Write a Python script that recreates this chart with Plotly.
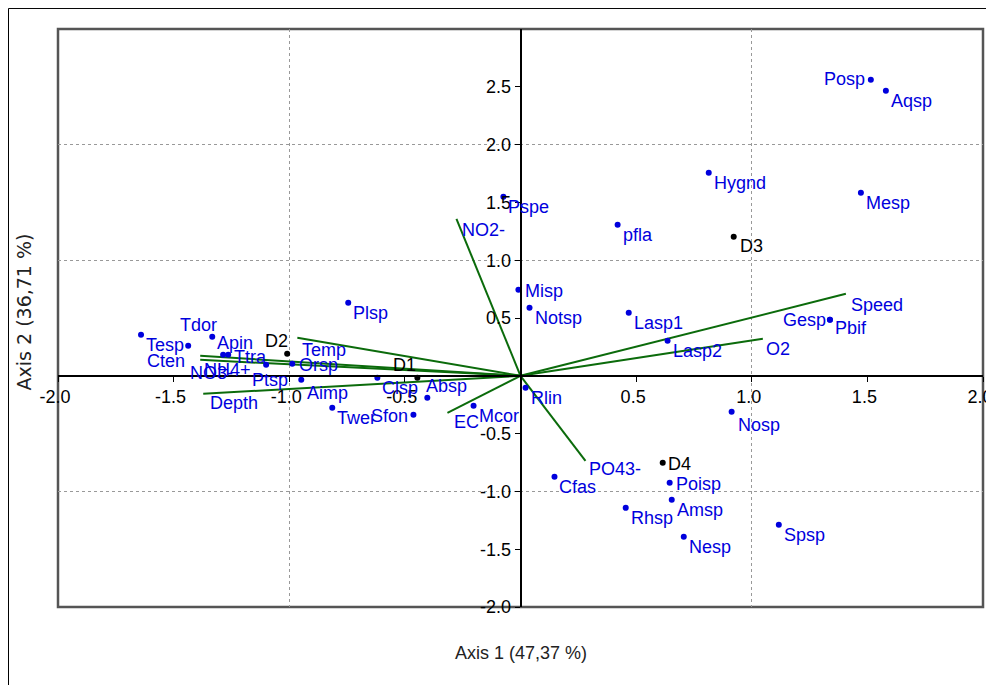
import plotly.graph_objects as go

# ---------------- data ----------------
species = ["Tesp", "Tdor", "Cten", "Apin", "Ttra", "Ptsp", "Orsp", "Aimp", "Plsp", "Twer",
           "Clsp", "Sfon", "Absp", "Mcor", "Rlin", "Misp", "Notsp", "Pspe", "pfla", "Lasp1",
           "Lasp2", "Hygnd", "Mesp", "Posp", "Aqsp", "Gesp", "Pbif", "Nosp", "Cfas", "Poisp",
           "Amsp", "Rhsp", "Nesp", "Spsp"]
species_x = [-1.641, -1.437, -1.286, -1.333, -1.264, -1.100, -0.987, -0.948, -0.745, -0.814,
             -0.619, -0.463, -0.403, -0.203, 0.022, -0.009, 0.039, -0.074, 0.420, 0.468,
             0.636, 0.814, 1.472, 1.515, 1.580, 1.338, 1.338, 0.913, 0.147, 0.645,
             0.654, 0.455, 0.706, 1.117]
species_y = [0.355, 0.260, 0.182, 0.337, 0.182, 0.095, 0.104, -0.035, 0.631, -0.277,
             -0.017, -0.337, -0.190, -0.260, -0.104, 0.744, 0.588, 1.548, 1.306, 0.545,
             0.303, 1.756, 1.583, 2.561, 2.465, 0.484, 0.484, -0.311, -0.874, -0.926,
             -1.073, -1.142, -1.393, -1.289]

sites = ["D1", "D2", "D3", "D4"]
sites_x = [-0.446, -1.009, 0.922, 0.615]
sites_y = [-0.017, 0.190, 1.202, -0.753]

variables = ["Temp", "NO3-", "NH4+", "Depth", "NO2-", "PO43-", "Speed", "O2", "EC"]
variables_x = [-0.965, -1.385, -1.385, -1.372, -0.277, 0.281, 1.407, 1.048, -0.316]
variables_y = [0.329, 0.173, 0.138, -0.156, 1.358, -0.735, 0.709, 0.320, -0.320]

x_ticks = [-2.0, -1.5, -1.0, -0.5, 0.5, 1.0, 1.5, 2.0]
y_ticks = [-2.0, -1.5, -1.0, -0.5, 0.5, 1.0, 1.5, 2.0, 2.5]
x_grid = [-1.0, 1.0]
y_grid = [-1.0, 1.0, 2.0]
x_title = "Axis 1 (47,37 %)"
y_title = "Axis 2 (36,71 %)"

# ---------------- styles ----------------
BLUE = "#0000DD"
GREEN = "#0B6B0B"
LABEL_FONT = "Liberation Sans"
TICK_FONT = "Liberation Sans"
X_RANGE = [-2.0, 2.0]
Y_RANGE = [-2.0, 3.0]

# label placement: (anchor, dx, dy) pixel offsets from the point (dy downward)
default_off = ("left", 3, 10)
label_off = {
    "Tdor": ("left", -10, -21), "Cten": ("right", -36, 6), "Apin": ("left", 3, 6),
    "Ttra": ("left", 4, 2), "Ptsp": ("left", -16, 15), "Orsp": ("left", 5, 1),
    "Aimp": ("left", 4, 13), "Sfon": ("right", -3, 1), "Absp": ("left", -3, -12),
    "Misp": ("left", 5, 1), "Posp": ("right", -4, -1), "Gesp": ("right", -2, 0),
    "Pbif": ("left", 3, 8), "Nosp": ("left", 4, 13), "Poisp": ("left", 4, 1),
    "D1": ("right", 1, -13), "D2": ("right", 3, -13), "D3": ("left", 4, 9),
    "D4": ("left", 3, 1),
    "Temp": ("left", 3, 12), "NO3-": ("left", -12, 17), "NH4+": ("left", 2, 10),
    "Depth": ("left", 5, 9), "NO2-": ("left", 4, 11), "PO43-": ("left", 2, 8),
    "Speed": ("left", 3, 11), "O2": ("left", 1, 10), "EC": ("left", 5, 9),
}

fig = go.Figure()

# vectors
vx, vy = [], []
for x, y in zip(variables_x, variables_y):
    vx += [0, x, None]
    vy += [0, y, None]
fig.add_trace(go.Scatter(x=vx, y=vy, mode="lines",
                         line=dict(color=GREEN, width=2), hoverinfo="skip",
                         showlegend=False))

# species points
fig.add_trace(go.Scatter(x=species_x, y=species_y, mode="markers",
                         marker=dict(color=BLUE, size=6, line=dict(width=0)), text=species,
                         showlegend=False))
# site points
fig.add_trace(go.Scatter(x=sites_x, y=sites_y, mode="markers",
                         marker=dict(color="black", size=6, line=dict(width=0)), text=sites,
                         showlegend=False))

annotations = []


def add_label(name, x, y, color):
    anchor, dx, dy = label_off.get(name, default_off)
    annotations.append(dict(x=x, y=y, xref="x", yref="y", text=name, showarrow=False,
                            xanchor=anchor, yanchor="middle", xshift=dx, yshift=-dy,
                            font=dict(family=LABEL_FONT, size=18, color=color)))


for n, x, y in zip(species, species_x, species_y):
    add_label(n, x, y, BLUE)
for n, x, y in zip(variables, variables_x, variables_y):
    add_label(n, x, y, BLUE)
for n, x, y in zip(sites, sites_x, sites_y):
    add_label(n, x, y, "black")

# axis titles
annotations.append(dict(x=0.5, y=-0.058, xref="paper", yref="paper", text=x_title,
                        showarrow=False, xanchor="center", yanchor="top",
                        font=dict(family=LABEL_FONT, size=18, color="#222222")))
annotations.append(dict(x=-0.0365, y=0.51, xref="paper", yref="paper", text=y_title,
                        showarrow=False, xanchor="center", yanchor="middle", textangle=-90,
                        font=dict(family="DejaVu Sans", size=19, color="#222222")))

x_pos = (0 - Y_RANGE[0]) / (Y_RANGE[1] - Y_RANGE[0])
y_pos = (0 - X_RANGE[0]) / (X_RANGE[1] - X_RANGE[0])

fig.update_layout(
    template="none",
    width=986, height=677,
    margin=dict(l=50, r=11, t=21, b=78),
    paper_bgcolor="white", plot_bgcolor="rgba(0,0,0,0)",
    showlegend=False,
    annotations=annotations,
    xaxis=dict(range=X_RANGE, anchor="free", position=x_pos, showline=True,
               automargin=False, ticklabeloverflow="allow", ticklabelshift=-3,
               linecolor="black", linewidth=1.5, ticks="outside", ticklen=5,
               tickcolor="black", tickvals=x_ticks,
               ticktext=[f"{v:.1f}" for v in x_ticks], showgrid=False, zeroline=False,
               tickfont=dict(family=TICK_FONT, size=18, color="black"),
               minor=dict(tickvals=x_grid, showgrid=True, gridcolor="#999999",
                          griddash="dot", gridwidth=1, ticks="")),
    yaxis=dict(range=Y_RANGE, anchor="free", position=y_pos, showline=True,
               automargin=False, ticklabeloverflow="allow",
               linecolor="black", linewidth=1.5, ticks="outside", ticklen=5,
               tickcolor="black", tickvals=y_ticks,
               ticktext=[f"{v:.1f}" for v in y_ticks], showgrid=False, zeroline=False,
               tickfont=dict(family=TICK_FONT, size=18, color="black"),
               minor=dict(tickvals=y_grid, showgrid=True, gridcolor="#999999",
                          griddash="dot", gridwidth=1, ticks="")),
    shapes=[
        dict(type="rect", xref="paper", yref="paper", x0=0, x1=1, y0=0, y1=1,
             line=dict(color="#555555", width=2.5), layer="below"),
        dict(type="rect", xref="paper", yref="paper", x0=-0.0535, x1=1.05, y0=-0.2,
             y1=1.0355, line=dict(color="black", width=1), layer="above"),
    ],
)

fig.write_html("out.html")
